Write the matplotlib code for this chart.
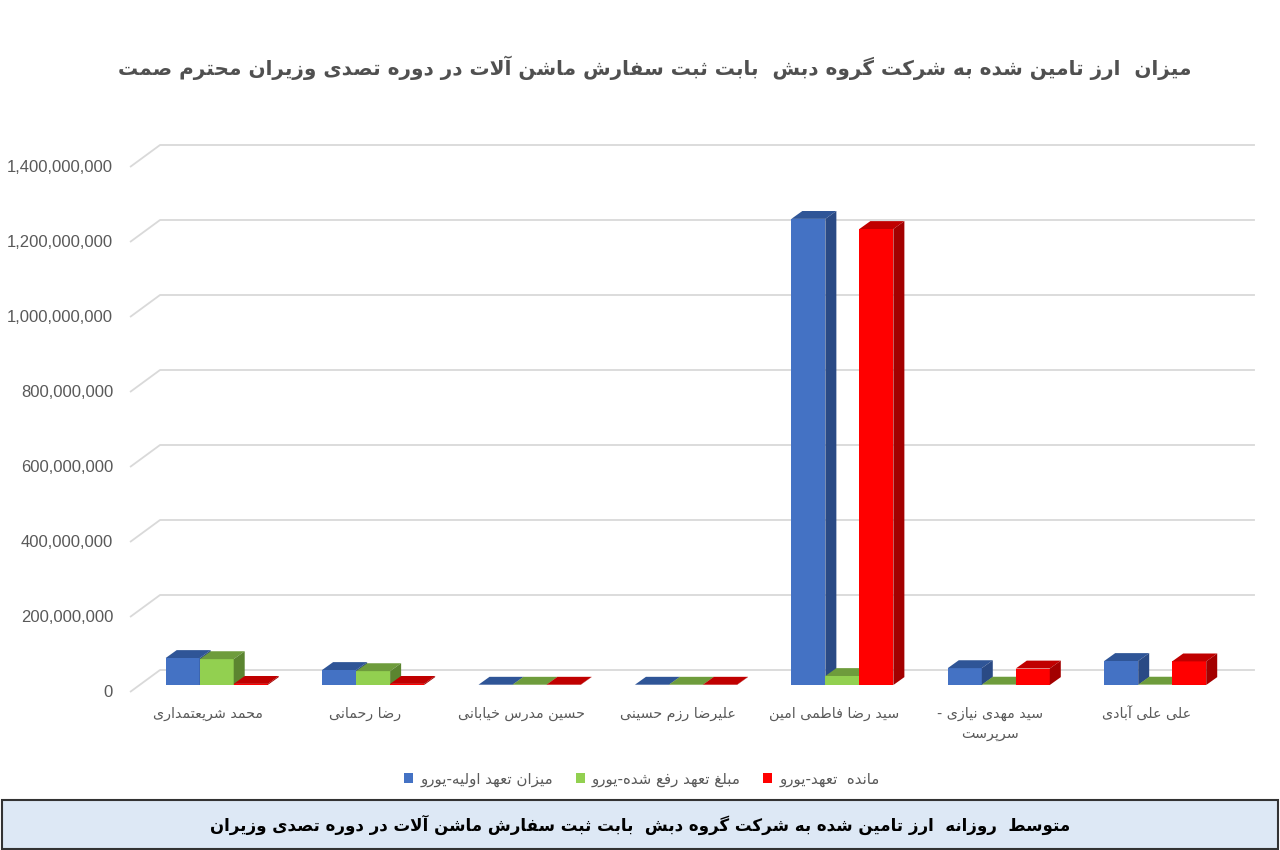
import matplotlib
matplotlib.use("Agg")
import matplotlib.pyplot as plt
from matplotlib.patches import Polygon, Rectangle, Patch

title = "میزان  ارز تامین شده به شرکت گروه دبش  بابت ثبت سفارش ماشن آلات در دوره تصدی وزیران محترم صمت"
footer = "متوسط  روزانه  ارز تامین شده به شرکت گروه دبش  بابت ثبت سفارش ماشن آلات در دوره تصدی وزیران"
ministers = ["محمد شریعتمداری", "رضا رحمانی", "حسین مدرس خیابانی", "علیرضا رزم حسینی",
             "سید رضا فاطمی امین", "سید مهدی نیازی -\nسرپرست", "علی علی آبادی"]
series_names = ["میزان تعهد اولیه-یورو", "مبلغ تعهد رفع شده-یورو", "مانده  تعهد-یورو"]
initial = [72e6, 40e6, 0.8e6, 0.8e6, 1243e6, 45e6, 64e6]
settled = [69e6, 37e6, 0.8e6, 0.8e6, 24e6, 1e6, 1e6]
remaining = [3e6, 3e6, 0.8e6, 0.8e6, 1216e6, 44e6, 63e6]
yticks = list(range(0, 1400000001, 200000000))

# front / top / side colours
faces = [("#4472C4", "#2F5597", "#2A4A85"),
         ("#92D050", "#6E9C3C", "#5B8530"),
         ("#FF0000", "#C00000", "#A30000")]

# minimal persian shaping: matplotlib does not join or reorder arabic script
FORMS = {
    0x0628: (0xFE8F, 0xFE90, 0xFE91, 0xFE92), 0x067E: (0xFB56, 0xFB57, 0xFB58, 0xFB59),
    0x062A: (0xFE95, 0xFE96, 0xFE97, 0xFE98), 0x062B: (0xFE99, 0xFE9A, 0xFE9B, 0xFE9C),
    0x062C: (0xFE9D, 0xFE9E, 0xFE9F, 0xFEA0), 0x062D: (0xFEA1, 0xFEA2, 0xFEA3, 0xFEA4),
    0x062E: (0xFEA5, 0xFEA6, 0xFEA7, 0xFEA8), 0x0633: (0xFEB1, 0xFEB2, 0xFEB3, 0xFEB4),
    0x0634: (0xFEB5, 0xFEB6, 0xFEB7, 0xFEB8), 0x0635: (0xFEB9, 0xFEBA, 0xFEBB, 0xFEBC),
    0x0636: (0xFEBD, 0xFEBE, 0xFEBF, 0xFEC0), 0x0637: (0xFEC1, 0xFEC2, 0xFEC3, 0xFEC4),
    0x0638: (0xFEC5, 0xFEC6, 0xFEC7, 0xFEC8), 0x0639: (0xFEC9, 0xFECA, 0xFECB, 0xFECC),
    0x063A: (0xFECD, 0xFECE, 0xFECF, 0xFED0), 0x0641: (0xFED1, 0xFED2, 0xFED3, 0xFED4),
    0x0642: (0xFED5, 0xFED6, 0xFED7, 0xFED8), 0x06A9: (0xFB8E, 0xFB8F, 0xFB90, 0xFB91),
    0x06AF: (0xFB92, 0xFB93, 0xFB94, 0xFB95), 0x0644: (0xFEDD, 0xFEDE, 0xFEDF, 0xFEE0),
    0x0645: (0xFEE1, 0xFEE2, 0xFEE3, 0xFEE4), 0x0646: (0xFEE5, 0xFEE6, 0xFEE7, 0xFEE8),
    0x0647: (0xFEE9, 0xFEEA, 0xFEEB, 0xFEEC), 0x06CC: (0xFBFC, 0xFBFD, 0xFBFE, 0xFBFF),
    0x0627: (0xFE8D, 0xFE8E), 0x0622: (0xFE81, 0xFE82), 0x062F: (0xFEA9, 0xFEAA),
    0x0630: (0xFEAB, 0xFEAC), 0x0631: (0xFEAD, 0xFEAE), 0x0632: (0xFEAF, 0xFEB0),
    0x0698: (0xFB8A, 0xFB8B), 0x0648: (0xFEED, 0xFEEE),
    "LA": (0xFEFB, 0xFEFC), "LAA": (0xFEF5, 0xFEF6),
}


def forms(t):
    return FORMS.get(t) if len(t) > 1 else FORMS.get(ord(t))


def fa_line(s):
    toks, i = [], 0
    while i < len(s):
        if s[i] == "ل" and i + 1 < len(s) and s[i + 1] in "اآ":
            toks.append("LA" if s[i + 1] == "ا" else "LAA")
            i += 2
        else:
            toks.append(s[i])
            i += 1
    out = []
    for k, t in enumerate(toks):
        f = forms(t)
        if f is None:
            out.append(t)
            continue
        prev = forms(toks[k - 1]) if k > 0 else None
        nxt = forms(toks[k + 1]) if k + 1 < len(toks) else None
        jp = prev is not None and len(prev) == 4
        jn = len(f) == 4 and nxt is not None
        if jp and jn:
            out.append(chr(f[3]))
        elif jp:
            out.append(chr(f[1]))
        elif jn:
            out.append(chr(f[2]))
        else:
            out.append(chr(f[0]))
    return "".join(reversed(out))


def fa(s):
    return "\n".join(fa_line(l) for l in s.split("\n"))


fig = plt.figure(figsize=(12.8, 8.5), dpi=100)
ax = fig.add_axes([100 / 1280, 150 / 850, 1170 / 1280, 570 / 850])
ax.set_xlim(-0.692, 6.788)
ax.set_ylim(-40e6, 1480e6)
ax.axis("off")

# oblique depth of the fake 3d box, in data units
px = 156.4
wall_dx, wall_up, wall_down = 30 / px, 40e6, 18.7e6
bar_dx, bar_dy = 11 / px, 21e6
bw = 34 / px

for g in yticks:
    ax.plot([-0.5, -0.5 + wall_dx, 6.5 + wall_dx], [g - wall_down, g + wall_up, g + wall_up],
            color="#D9D9D9", lw=1.3, zorder=1, solid_capstyle="butt")
    ax.text(-0.5 - 17 / px, g - wall_down, f"{g:,}", ha="right", va="center",
            fontsize=12, color="#595959", family="Liberation Sans")

series = [initial, settled, remaining]
for i in range(len(ministers)):
    for s, vals in enumerate(series):
        v = vals[i]
        x0 = i - 0.272 + s * bw
        x1 = x0 + bw
        front, top, side = faces[s]
        z = 3 + i * 3 + s
        ax.bar(x0, v, width=bw, align="edge", color=front, lw=0, zorder=z)
        ax.add_patch(Polygon([(x0, v), (x0 + bar_dx, v + bar_dy), (x1 + bar_dx, v + bar_dy), (x1, v)],
                             closed=True, fc=top, lw=0, zorder=z))
        ax.add_patch(Polygon([(x1, 0), (x1 + bar_dx, bar_dy), (x1 + bar_dx, v + bar_dy), (x1, v)],
                             closed=True, fc=side, lw=0, zorder=z))
    ax.text(i, -58e6, fa(ministers[i]), ha="center", va="top", fontsize=10.3,
            color="#595959", family="DejaVu Sans", linespacing=1.55)

fig.text(655 / 1280, 1 - 68 / 850, fa(title), ha="center", va="center", fontsize=14.4,
         fontweight="bold", color="#505050", family="DejaVu Sans")

handles = [Patch(facecolor=f[0], edgecolor="none") for f in faces]
fig.legend(handles, [fa(n) for n in series_names], loc="center", bbox_to_anchor=(642 / 1280, 1 - 779 / 850),
           ncol=3, frameon=False, fontsize=10.8, labelcolor="#595959", handlelength=0.6,
           handleheight=0.6, handletextpad=0.5, columnspacing=1.5)

fig.patches.append(Rectangle((2 / 1280, 1 / 850), 1276 / 1280, 49 / 850, transform=fig.transFigure,
                             fc="#DDE8F5", ec="#333333", lw=1.5))
fig.text(640 / 1280, 25 / 850, fa(footer), ha="center", va="center", fontsize=12,
         fontweight="bold", color="black", family="DejaVu Sans")

fig.savefig("out.png", dpi=100, facecolor="white")
